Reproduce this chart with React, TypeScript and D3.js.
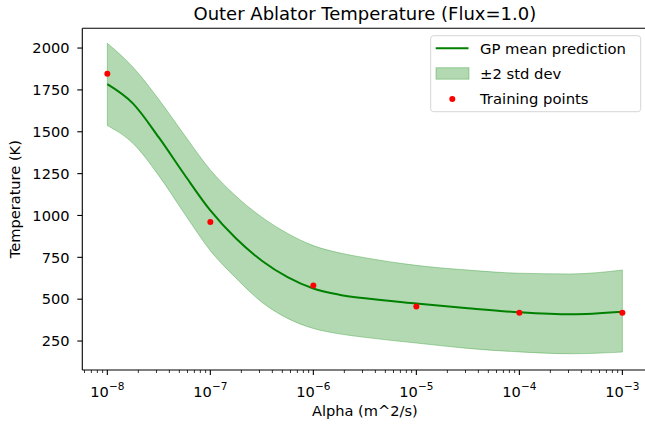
import React from "react";
import * as d3 from "d3";

// ---- data ----
const logAlpha = [-8, -7.75, -7.5, -7.25, -7, -6.75, -6.5, -6.25, -6, -5.75, -5.5, -5, -4.5, -4, -3.5, -3];
const meanPred = [1784, 1668, 1466, 1243, 1030, 862, 730, 632, 564, 527, 505, 474, 446, 422, 410, 425];
const upperBand = [2029, 1885, 1693, 1479, 1272, 1115, 990, 893, 820, 777, 748, 702, 674, 655, 651, 674];
const lowerBand = [1537, 1430, 1238, 1010, 790, 625, 482, 385, 325, 293, 272, 238, 206, 185, 174, 184];

const trainAlpha = [1e-8, 1e-7, 1e-6, 1e-5, 1e-4, 1e-3];
const trainTemp = [1847, 961, 581, 457, 419, 419];

const yTicks = [250, 500, 750, 1000, 1250, 1500, 1750, 2000];
const xTickExps = [-8, -7, -6, -5, -4, -3];

const title = "Outer Ablator Temperature (Flux=1.0)";
const xLabel = "Alpha (m^2/s)";
const yLabel = "Temperature (K)";
const legendLabels = ["GP mean prediction", "\u00b12 std dev", "Training points"];

const W = 645;
const H = 428;
const FONT = "'DejaVu Sans', Verdana, sans-serif";

export default function App() {
  const left = 82.3;
  const right = 647.4;
  const top = 28.3;
  const bottom = 370;

  const x = d3
    .scaleLog()
    .domain([Math.pow(10, -8.243), Math.pow(10, -2.757)])
    .range([left, right]);
  const y = d3.scaleLinear().domain([77, 2118]).range([bottom, top]);

  const bandData = logAlpha.map((l, i) => ({ a: Math.pow(10, l), lo: lowerBand[i], hi: upperBand[i] }));
  const meanData = logAlpha.map((l, i) => ({ a: Math.pow(10, l), m: meanPred[i] }));

  const area = d3
    .area<{ a: number; lo: number; hi: number }>()
    .x((d) => x(d.a))
    .y0((d) => y(d.lo))
    .y1((d) => y(d.hi))
    .curve(d3.curveMonotoneX);
  const line = d3
    .line<{ a: number; m: number }>()
    .x((d) => x(d.a))
    .y((d) => y(d.m))
    .curve(d3.curveMonotoneX);

  const minorTicks: number[] = [];
  for (let e = -9; e <= -3; e++) {
    for (let k = 2; k <= 9; k++) {
      const v = k * Math.pow(10, e);
      const px = x(v);
      if (px >= left && px <= right) minorTicks.push(v);
    }
  }

  const green = "#008000";
  const bandFill = "rgba(0,128,0,0.3)";

  const lgX = 430.7;
  const lgY = 35.7;
  const lgW = 210;
  const lgH = 76;

  return (
    <svg
      width={W}
      height={H}
      style={{ position: "absolute", left: 0, top: 0, background: "#fff" }}
      fontFamily={FONT}
    >
      <rect x={0} y={0} width={W} height={H} fill="#fff" />
      <defs>
        <clipPath id="plotClip">
          <rect x={left} y={top} width={right - left} height={bottom - top} />
        </clipPath>
      </defs>

      {/* title */}
      <text x={(left + right) / 2} y={20} textAnchor="middle" fontSize={18} fill="#000">
        {title}
      </text>

      <g clipPath="url(#plotClip)">
        <path d={area(bandData) || ""} fill={bandFill} stroke={bandFill} strokeWidth={1} />
        <path d={line(meanData) || ""} fill="none" stroke={green} strokeWidth={2} />
        {trainAlpha.map((a, i) => (
          <circle key={i} cx={x(a)} cy={y(trainTemp[i])} r={3} fill="#ff0000" />
        ))}
      </g>

      {/* spines */}
      <line x1={left} x2={left} y1={top} y2={bottom} stroke="#000" strokeWidth={1.1} />
      <line x1={left} x2={right} y1={bottom} y2={bottom} stroke="#000" strokeWidth={1.1} />
      <line x1={left} x2={right} y1={top} y2={top} stroke="#000" strokeWidth={1.1} />
      <line x1={right} x2={right} y1={top} y2={bottom} stroke="#000" strokeWidth={1.1} />

      {/* y ticks */}
      {yTicks.map((t) => (
        <g key={t}>
          <line x1={left - 5} x2={left} y1={y(t)} y2={y(t)} stroke="#000" strokeWidth={1.1} />
          <text x={69.5} y={y(t) + 5.2} textAnchor="end" fontSize={14.6} fill="#000">
            {t}
          </text>
        </g>
      ))}

      {/* x minor ticks */}
      {minorTicks.map((v, i) => (
        <line key={i} x1={x(v)} x2={x(v)} y1={bottom} y2={bottom + 3} stroke="#000" strokeWidth={0.8} />
      ))}
      {/* x major ticks */}
      {xTickExps.map((e) => {
        const px = x(Math.pow(10, e));
        return (
          <g key={e}>
            <line x1={px} x2={px} y1={bottom} y2={bottom + 5} stroke="#000" strokeWidth={1.1} />
            <text x={px} y={396.5} textAnchor="middle" fill="#000">
              <tspan fontSize={14.6}>10</tspan>
              <tspan fontSize={10.5} dy={-6.5}>
                {"\u2212" + Math.abs(e)}
              </tspan>
            </text>
          </g>
        );
      })}

      {/* axis labels */}
      <text x={(left + right) / 2} y={416} textAnchor="middle" fontSize={14.6} fill="#000">
        {xLabel}
      </text>
      <text
        transform={`translate(20,${(top + bottom) / 2}) rotate(-90)`}
        textAnchor="middle"
        fontSize={14.6}
        fill="#000"
      >
        {yLabel}
      </text>

      {/* legend */}
      <rect x={lgX} y={lgY} width={lgW} height={lgH} rx={3} fill="rgba(255,255,255,0.8)" stroke="#d5d5d5" strokeWidth={1} />
      <line x1={435.7} x2={468.5} y1={48.3} y2={48.3} stroke={green} strokeWidth={2} />
      <rect x={436} y={67.7} width={33} height={11.5} fill={bandFill} stroke={bandFill} strokeWidth={1} />
      <circle cx={452.3} cy={99} r={3} fill="#ff0000" />
      {legendLabels.map((s, i) => (
        <text key={i} x={480} y={53.6 + i * 25.3} fontSize={14.8} fill="#000">
          {s}
        </text>
      ))}
    </svg>
  );
}
